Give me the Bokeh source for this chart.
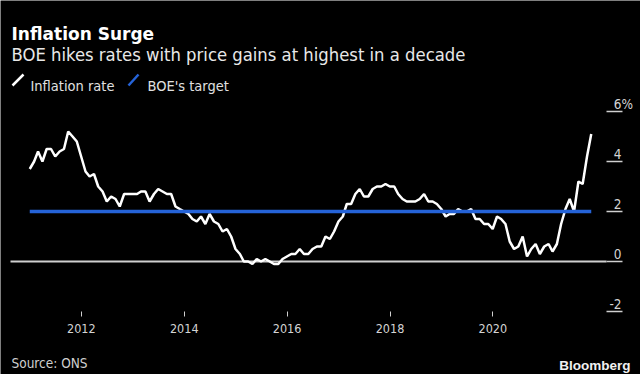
import pandas as pd
from bokeh.plotting import figure
from bokeh.models import (Range1d, FixedTicker, DatetimeTickFormatter, Label, Arrow)
from bokeh.embed import file_html
from bokeh.resources import INLINE

# ---------------- data ----------------
START_MONTH = "2010-12-01"
INFLATION = [3.7,
             4.0, 4.4, 4.0, 4.5, 4.5, 4.2, 4.4, 4.5, 5.2, 5.0, 4.8, 4.2,
             3.6, 3.4, 3.5, 3.0, 2.8, 2.4, 2.6, 2.5, 2.2, 2.7, 2.7, 2.7,
             2.7, 2.8, 2.8, 2.4, 2.7, 2.9, 2.8, 2.7, 2.7, 2.2, 2.1, 2.0,
             1.9, 1.7, 1.6, 1.8, 1.5, 1.9, 1.6, 1.5, 1.2, 1.3, 1.0, 0.5,
             0.3, 0.0, 0.0, -0.1, 0.1, 0.0, 0.1, 0.0, -0.1, -0.1, 0.1, 0.2,
             0.3, 0.3, 0.5, 0.3, 0.3, 0.5, 0.6, 0.6, 1.0, 0.9, 1.2, 1.6,
             1.8, 2.3, 2.3, 2.7, 2.9, 2.6, 2.6, 2.9, 3.0, 3.0, 3.1, 3.0,
             3.0, 2.7, 2.5, 2.4, 2.4, 2.4, 2.5, 2.7, 2.4, 2.4, 2.3, 2.1,
             1.8, 1.9, 1.9, 2.1, 2.0, 2.0, 2.1, 1.7, 1.7, 1.5, 1.5, 1.3,
             1.8, 1.7, 1.5, 0.8, 0.5, 0.6, 1.0, 0.2, 0.5, 0.7, 0.3, 0.6,
             0.7, 0.4, 0.7, 1.5, 2.1, 2.5, 2.0, 3.2, 3.1, 4.2, 5.1]
BOE_TARGET = 2.0
ZERO = 0.0
X_TICK_YEARS = [2012, 2014, 2016, 2018, 2020]
Y_TICKS = [-2, 0, 2, 4, 6]
Y_TICK_LABELS = ["-2", "0", "2", "4", "6"]

TITLE = "Inflation Surge"
SUBTITLE = "BOE hikes rates with price gains at highest in a decade"
LEGEND = ["Inflation rate", "BOE's target"]
SOURCE = "Source: ONS"

# ---------------- styling / layout ----------------
FONT = "DejaVu Sans Condensed, DejaVu Sans"
BLUE = "#2563d8"
GREY = "#cfcfcf"
W, H = 640, 374

dates = pd.date_range(START_MONTH, periods=len(INFLATION), freq="MS") + pd.offsets.MonthEnd(0)

ref = pd.Timestamp("2012-01-01")
day = pd.Timedelta(days=1)
x_start = ref - 573.7 * day
x_end = ref + 3970.7 * day
y_axis_at = ref + 3729.3 * day      # where the right-hand tick marks start
zero_from = ref - 502.7 * day       # left end of the zero line

p = figure(width=W, height=H, output_backend="svg", toolbar_location=None,
           title=None, x_axis_type="datetime", y_axis_location="right",
           x_range=Range1d(x_start, x_end), y_range=Range1d(-4.52, 10.44),
           background_fill_color="black", border_fill_color="black",
           outline_line_color=None, min_border_left=0, min_border_right=0,
           min_border_top=0, min_border_bottom=0)
p.grid.visible = False

# x axis, drawn at y = -2 inside the frame
xa = p.xaxis[0]
xa.fixed_location = -2.0
xa.ticker = FixedTicker(ticks=[pd.Timestamp(f"{y}-01-01").value / 1e6 for y in X_TICK_YEARS])
xa.formatter = DatetimeTickFormatter(years="%Y", months="%Y", days="%Y", hours="%Y",
                                     hourmin="%Y", minutes="%Y", minsec="%Y",
                                     seconds="%Y", milliseconds="%Y", microseconds="%Y")
xa.axis_line_color = None
xa.major_tick_in = 0
xa.major_tick_out = 5
xa.major_tick_line_color = GREY
xa.major_tick_line_width = 1
xa.minor_tick_line_color = None
xa.major_label_standoff = 7
xa.major_label_text_font = FONT
xa.major_label_text_font_size = "12.5px"
xa.major_label_text_color = "#d4d4d4"

# y axis (right): tick lines only; the labels sit above them (drawn below)
ya = p.yaxis[0]
ya.fixed_location = y_axis_at.value / 1e6
ya.ticker = FixedTicker(ticks=Y_TICKS)
ya.axis_line_color = None
ya.major_tick_in = 0
ya.major_tick_out = 16
ya.major_tick_line_color = GREY
ya.major_tick_line_width = 1.6
ya.minor_tick_line_color = None
ya.major_label_text_color = None

# zero line
p.line([zero_from, y_axis_at], [ZERO, ZERO], line_color=GREY, line_width=2)

# series
p.line(dates, INFLATION, line_color="white", line_width=2.5)
p.line([dates[0], dates[-1]], [BOE_TARGET, BOE_TARGET], line_color=BLUE, line_width=3.5)

# y tick labels
for v, t in zip(Y_TICKS, Y_TICK_LABELS):
    p.add_layout(Label(x=621, x_units="screen", y=v, y_units="data", y_offset=7.5,
                       text=t, text_align="right", text_baseline="alphabetic",
                       text_font=FONT, text_font_size="13.5px", text_color="#d4d4d4"))
p.add_layout(Label(x=621, x_units="screen", y=Y_TICKS[-1], y_units="data", y_offset=7.5,
                   text="%", text_align="left", text_baseline="alphabetic",
                   text_font=FONT, text_font_size="13.5px", text_color="#d4d4d4"))

# titles
p.add_layout(Label(x=11, y=341, x_units="screen", y_units="screen", text=TITLE,
                   text_font="DejaVu Sans", text_font_style="bold", text_font_size="17px",
                   text_color="white", text_baseline="alphabetic"))
p.add_layout(Label(x=11, y=320, x_units="screen", y_units="screen", text=SUBTITLE,
                   text_font=FONT, text_font_size="18.3px",
                   text_color="#e8e8e8", text_baseline="alphabetic"))

# legend
p.add_layout(Arrow(end=None, x_start=12, y_start=289, x_end=23, y_end=300,
                   start_units="screen", end_units="screen",
                   line_color="white", line_width=2.5))
p.add_layout(Arrow(end=None, x_start=128, y_start=289, x_end=138, y_end=300,
                   start_units="screen", end_units="screen",
                   line_color=BLUE, line_width=2.5))
p.add_layout(Label(x=30, y=289, x_units="screen", y_units="screen", text=LEGEND[0],
                   text_font=FONT, text_font_size="14.5px",
                   text_color="#e0e0e0", text_baseline="alphabetic"))
p.add_layout(Label(x=147, y=289, x_units="screen", y_units="screen", text=LEGEND[1],
                   text_font=FONT, text_font_size="14.5px",
                   text_color="#e0e0e0", text_baseline="alphabetic"))

# footer
p.add_layout(Label(x=11, y=12, x_units="screen", y_units="screen", text=SOURCE,
                   text_font=FONT, text_font_size="13.5px",
                   text_color="#cfcfcf", text_baseline="alphabetic"))
p.add_layout(Label(x=630, y=9, x_units="screen", y_units="screen", text="Bloomberg",
                   text_font="Liberation Sans", text_font_style="bold",
                   text_font_size="13.5px", text_align="right",
                   text_color="#f0f0f0", text_baseline="alphabetic"))

open("out.html", "w").write(file_html(p, INLINE))
